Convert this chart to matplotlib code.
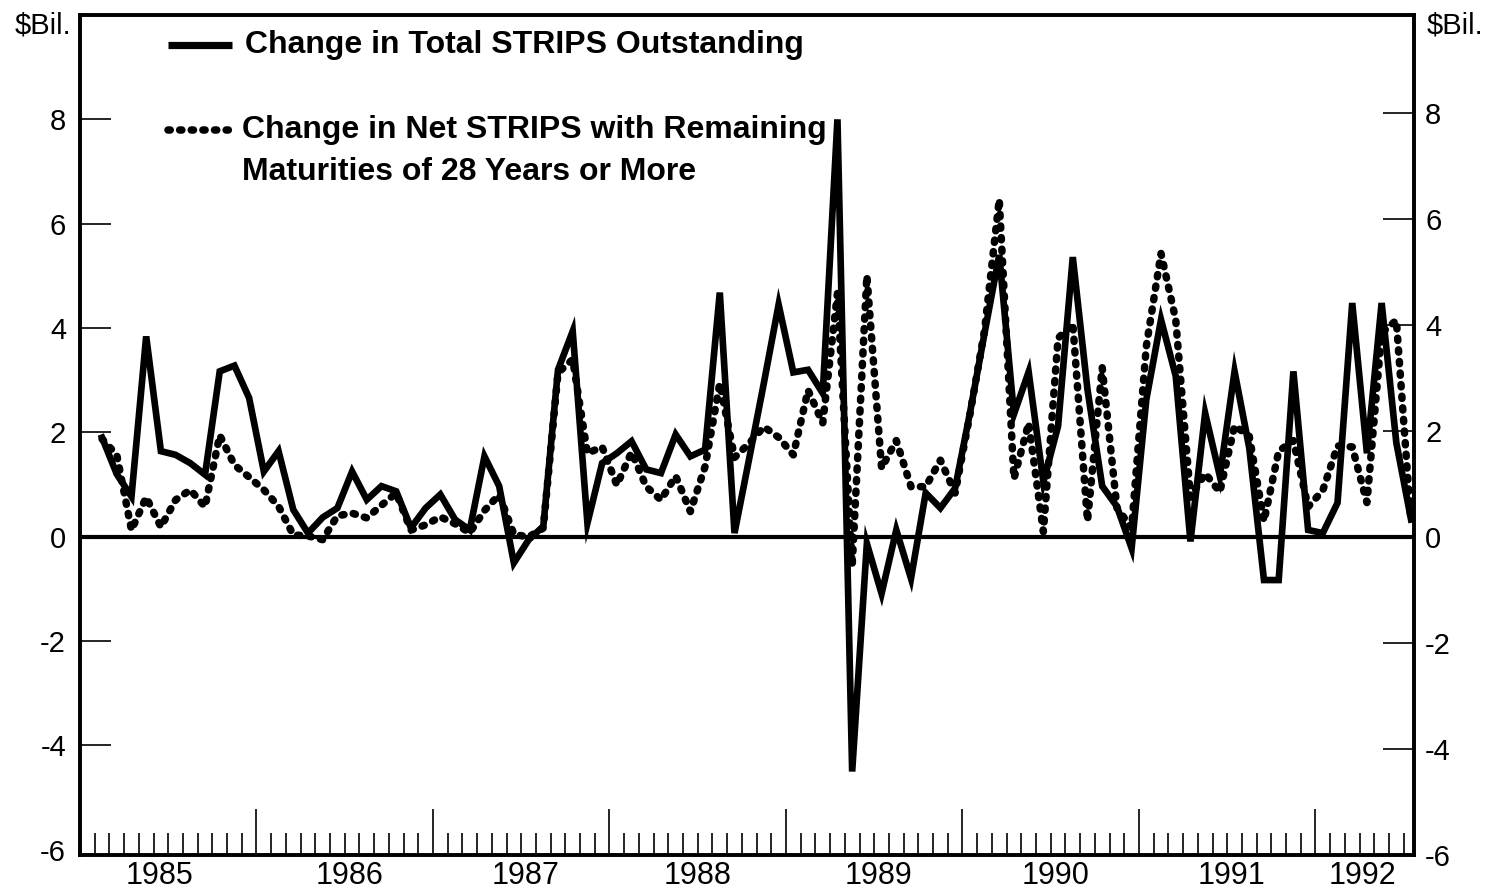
import matplotlib
matplotlib.use('Agg')
import matplotlib.pyplot as plt
import numpy as np
from matplotlib.ticker import FixedLocator
from matplotlib.lines import Line2D

plt.rcParams['font.family'] = ['Liberation Sans', 'DejaVu Sans']

# ---------------- data (monthly, Feb 1985 - Jul 1992), $ billions ----------------
total_strips_change = [
    1.90, 1.20, 0.77, 3.84, 1.64, 1.57, 1.41, 1.19, 3.17, 3.28,
    2.66, 1.25, 1.64, 0.52, 0.07, 0.37, 0.55, 1.25, 0.71, 0.97,
    0.87, 0.17, 0.55, 0.81, 0.33, 0.13, 1.54, 0.97, -0.50, -0.06,
    0.20, 3.20, 3.94, 0.26, 1.41, 1.60, 1.83, 1.29, 1.22, 1.96,
    1.54, 1.67, 4.68, 0.07, 1.50, 2.95, 4.45, 3.15, 3.20, 2.75,
    8.00, -4.50, -0.13, -1.09, 0.13, -0.80, 0.84, 0.55, 0.93, 2.36,
    3.90, 5.40, 2.35, 3.16, 1.05, 2.12, 5.36, 2.82, 0.97, 0.58,
    -0.22, 2.63, 4.16, 3.08, -0.09, 2.37, 1.16, 3.17, 1.70, -0.83,
    -0.83, 3.17, 0.13, 0.07, 0.65, 4.48, 1.60, 4.48, 1.80, 0.33,
]
net_strips_28y_change = [
    1.85, 1.55, 0.13, 0.75, 0.19, 0.70, 0.89, 0.57, 1.92, 1.36,
    1.13, 0.89, 0.58, 0.04, 0.02, -0.05, 0.40, 0.45, 0.36, 0.60,
    0.83, 0.13, 0.23, 0.38, 0.25, 0.08, 0.50, 0.80, 0.05, 0.00,
    0.17, 3.10, 3.35, 1.58, 1.70, 0.98, 1.60, 0.95, 0.70, 1.15,
    0.48, 1.33, 2.90, 1.50, 1.77, 2.08, 1.88, 1.55, 2.77, 2.15,
    4.60, -0.55, 4.93, 1.30, 1.82, 0.95, 0.95, 1.45, 0.83, 2.30,
    3.90, 6.37, 1.10, 2.15, 0.10, 3.75, 4.03, 0.30, 3.20, 0.55,
    0.17, 3.60, 5.35, 4.10, 0.75, 1.20, 0.85, 2.10, 1.90, 0.30,
    1.62, 1.82, 0.57, 0.88, 1.72, 1.70, 0.65, 3.85, 4.09, 0.26,
]
year_labels = ['1985', '1986', '1987', '1988', '1989', '1990', '1991', '1992']
y_ticks = [-6, -4, -2, 0, 2, 4, 6, 8]

label1 = 'Change in Total STRIPS Outstanding'
label2a = 'Change in Net STRIPS with Remaining'
label2b = 'Maturities of 28 Years or More'

# ---------------- layout ----------------
W, H = 1492, 892
fig = plt.figure(figsize=(W / 100, H / 100), dpi=100)
ax = fig.add_axes([80 / W, 1 - 855 / H, 1334 / W, 840 / H])

DOT = (0, (0.3, 1.25))
DOT_LW = 5.4

# months since Jan 1985, plotted at mid-month, first obs = Feb 1985
months = np.arange(len(total_strips_change)) + 1.5

ax.plot(months, total_strips_change, color='black', lw=4.8,
        solid_joinstyle='miter', zorder=3)
ax.axhline(0, color='black', lw=3, zorder=2)

ax2 = ax.twinx()
ax2.plot(months, net_strips_28y_change, color='black', lw=DOT_LW,
         linestyle=DOT, dash_capstyle='round', zorder=3)

ax.set_xlim(0, 90.7)
ax.set_ylim(-6.1, 10.0)
ax2.set_ylim(-6.0, 9.85)

for a in (ax, ax2):
    for s in a.spines.values():
        s.set_linewidth(2.6)

ax.set_yticks(y_ticks)
ax.set_yticklabels([str(v) for v in y_ticks])
ax.tick_params(axis='y', direction='in', length=22, width=1.2,
               labelsize=21, pad=10)
# the -6 tick sits on the bottom frame: hide its mark, keep its label
ax.yaxis.get_major_ticks()[0].tick1line.set_visible(False)

ax2.set_yticks(y_ticks)
ax2.set_yticklabels([str(v) for v in y_ticks])
ax2.tick_params(axis='y', direction='in', length=22, width=1.2,
                labelsize=21, pad=8)
ax2.yaxis.get_major_ticks()[0].tick2line.set_visible(False)

# x ticks: year boundaries (major) and months (minor)
ax.xaxis.set_major_locator(FixedLocator(np.arange(12, 90, 12)))
ax.xaxis.set_minor_locator(FixedLocator(np.arange(1, 91)))
ax.tick_params(axis='x', which='major', direction='in', length=33,
               width=1.2, labelbottom=False)
ax.tick_params(axis='x', which='minor', direction='in', length=16,
               width=1.2)

label_pos = [5.4, 18.3, 30.3, 42.0, 54.3, 66.3, 78.3, 87.2]
sec = ax.secondary_xaxis('bottom')
sec.set_xticks(label_pos)
sec.set_xticklabels(year_labels)
sec.tick_params(length=0, labelsize=22, pad=4)
sec.spines['bottom'].set_visible(False)

# unit labels
fig.text(43 / W, 1 - 25 / H, '$Bil.', fontsize=21, ha='center', va='center')
fig.text(1455 / W, 1 - 25 / H, '$Bil.', fontsize=21, ha='center', va='center')

# legend (manual, to match layout)
def axf(px, py):
    return ((px - 80) / 1334, (855 - py) / 840)

x0, y0 = axf(168, 45)
x1, _ = axf(232, 45)
ax.add_line(Line2D([x0, x1], [y0, y0], transform=ax.transAxes,
                   color='black', lw=5.2, solid_capstyle='butt'))
tx, ty = axf(245, 45)
ax.text(tx, ty, label1, transform=ax.transAxes, fontsize=23,
        fontweight='bold', ha='left', va='center')

x0, y0 = axf(168, 130)
x1, _ = axf(234, 130)
ax.add_line(Line2D([x0, x1], [y0, y0], transform=ax.transAxes,
                   color='black', lw=DOT_LW, linestyle=DOT,
                   dash_capstyle='round'))
tx, ty = axf(242, 130)
ax.text(tx, ty, label2a, transform=ax.transAxes, fontsize=23,
        fontweight='bold', ha='left', va='center')
tx, ty = axf(242, 172)
ax.text(tx, ty, label2b, transform=ax.transAxes, fontsize=23,
        fontweight='bold', ha='left', va='center')

fig.savefig('out.png', dpi=100)
